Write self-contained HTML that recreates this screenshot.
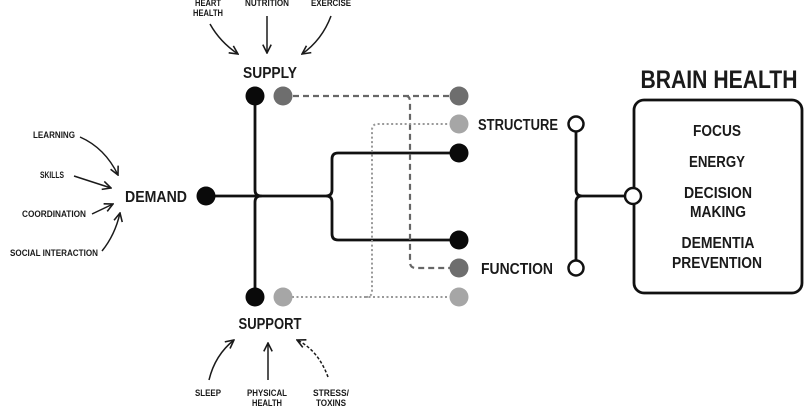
<!DOCTYPE html>
<html><head><meta charset="utf-8"><style>
html,body{margin:0;padding:0;background:#fff;}
svg{display:block}
text{font-family:"Liberation Sans Narrow","Liberation Sans",sans-serif;font-weight:bold;fill:#1a1a1a;text-anchor:middle}
.s{font-size:9px}
.m{font-size:16px}
</style></head><body>
<svg width="812" height="406" viewBox="0 0 812 406" xmlns="http://www.w3.org/2000/svg">
<defs>
<marker id="a" viewBox="0 0 10 10" refX="9" refY="5" markerWidth="7" markerHeight="7" orient="auto-start-reverse">
<path d="M1,1 L9,5 L1,9" fill="none" stroke="#1a1a1a" stroke-width="1.5"/>
</marker>
</defs>
<g fill="none" stroke="#111" stroke-width="2.8" stroke-linecap="round">
<path d="M255,96 V190 Q255,196 261,196 M255,297 V202 Q255,196 261,196"/>
<path d="M206,196 H326 Q332,196 332,190 V159 Q332,153 338,153 H459 M326,196 Q332,196 332,202 V234 Q332,240 338,240 H459"/>
<path d="M576,124 V190 Q576,196 582,196 H633 M576,268 V202 Q576,196 582,196"/>
<rect x="634" y="100" width="168" height="193" rx="10"/>
</g>
<path d="M283,96 H459 M406,96 Q410,96 410,102 V262 Q410,268 416,268 H459" fill="none" stroke="#666" stroke-width="2.2" stroke-dasharray="6,4"/>
<path d="M283,297 H459 M366,297 Q372,297 372,291 V130 Q372,124 378,124 H459" fill="none" stroke="#999" stroke-width="2" stroke-dasharray="2,2.5"/>
<g stroke="none">
<circle cx="255" cy="96" r="9.5" fill="#0a0a0a"/>
<circle cx="283" cy="96" r="9.5" fill="#6e6e6e"/>
<circle cx="255" cy="297" r="9.5" fill="#0a0a0a"/>
<circle cx="283" cy="297" r="9.5" fill="#a6a6a6"/>
<circle cx="206" cy="196" r="9.5" fill="#0a0a0a"/>
<circle cx="459" cy="96" r="9.5" fill="#6e6e6e"/>
<circle cx="459" cy="124" r="9.5" fill="#a6a6a6"/>
<circle cx="459" cy="153" r="9.5" fill="#0a0a0a"/>
<circle cx="459" cy="240" r="9.5" fill="#0a0a0a"/>
<circle cx="459" cy="268" r="9.5" fill="#6e6e6e"/>
<circle cx="459" cy="297" r="9.5" fill="#a6a6a6"/>
</g>
<g fill="#fff" stroke="#111" stroke-width="2.5">
<circle cx="576" cy="124" r="7.5"/>
<circle cx="576" cy="268" r="7.5"/>
<circle cx="633" cy="196" r="8"/>
</g>
<g fill="none" stroke="#1a1a1a" stroke-width="1.5" marker-end="url(#a)">
<path d="M210,24 Q220,42 238,54"/>
<path d="M267,16 V53"/>
<path d="M331,16 Q322,40 302,54"/>
<path d="M80,137 Q105,148 118,175"/>
<path d="M74,176 L111,188"/>
<path d="M92,214 L113,204"/>
<path d="M102,251 Q115,235 120,213"/>
<path d="M209,380 Q215,355 234,340"/>
<path d="M268,380 V343"/>
<path d="M328,377 Q318,350 297,340" stroke-dasharray="3,2"/>
</g>
<text class="s" x="208" y="6" textLength="26" lengthAdjust="spacingAndGlyphs">HEART</text>
<text class="s" x="208" y="16" textLength="30" lengthAdjust="spacingAndGlyphs">HEALTH</text>
<text class="s" x="267" y="6" textLength="44" lengthAdjust="spacingAndGlyphs">NUTRITION</text>
<text class="s" x="331" y="6" textLength="40" lengthAdjust="spacingAndGlyphs">EXERCISE</text>
<text class="m" x="270" y="78" textLength="54" lengthAdjust="spacingAndGlyphs">SUPPLY</text>
<text class="m" x="270" y="329" textLength="63" lengthAdjust="spacingAndGlyphs">SUPPORT</text>
<text class="s" x="208" y="396" textLength="26" lengthAdjust="spacingAndGlyphs">SLEEP</text>
<text class="s" x="267" y="396" textLength="40" lengthAdjust="spacingAndGlyphs">PHYSICAL</text>
<text class="s" x="267" y="406" textLength="30" lengthAdjust="spacingAndGlyphs">HEALTH</text>
<text class="s" x="331" y="396" textLength="36" lengthAdjust="spacingAndGlyphs">STRESS/</text>
<text class="s" x="331" y="406" textLength="30" lengthAdjust="spacingAndGlyphs">TOXINS</text>
<text class="s" x="54" y="138" textLength="42" lengthAdjust="spacingAndGlyphs">LEARNING</text>
<text class="s" x="52" y="178" textLength="24" lengthAdjust="spacingAndGlyphs">SKILLS</text>
<text class="s" x="54" y="217" textLength="64" lengthAdjust="spacingAndGlyphs">COORDINATION</text>
<text class="s" x="54" y="256" textLength="88" lengthAdjust="spacingAndGlyphs">SOCIAL INTERACTION</text>
<text class="m" x="156" y="202" textLength="62" lengthAdjust="spacingAndGlyphs">DEMAND</text>
<text class="m" x="518" y="130" textLength="80" lengthAdjust="spacingAndGlyphs">STRUCTURE</text>
<text class="m" x="517" y="274" textLength="72" lengthAdjust="spacingAndGlyphs">FUNCTION</text>
<text x="719" y="88" style="font-size:25px" textLength="157" lengthAdjust="spacingAndGlyphs">BRAIN HEALTH</text>
<text class="m" x="717" y="136" textLength="48" lengthAdjust="spacingAndGlyphs">FOCUS</text>
<text class="m" x="717" y="167" textLength="56" lengthAdjust="spacingAndGlyphs">ENERGY</text>
<text class="m" x="718" y="198" textLength="68" lengthAdjust="spacingAndGlyphs">DECISION</text>
<text class="m" x="718" y="217" textLength="56" lengthAdjust="spacingAndGlyphs">MAKING</text>
<text class="m" x="718" y="248" textLength="73" lengthAdjust="spacingAndGlyphs">DEMENTIA</text>
<text class="m" x="717" y="268" textLength="90" lengthAdjust="spacingAndGlyphs">PREVENTION</text>
</svg>
</body></html>
